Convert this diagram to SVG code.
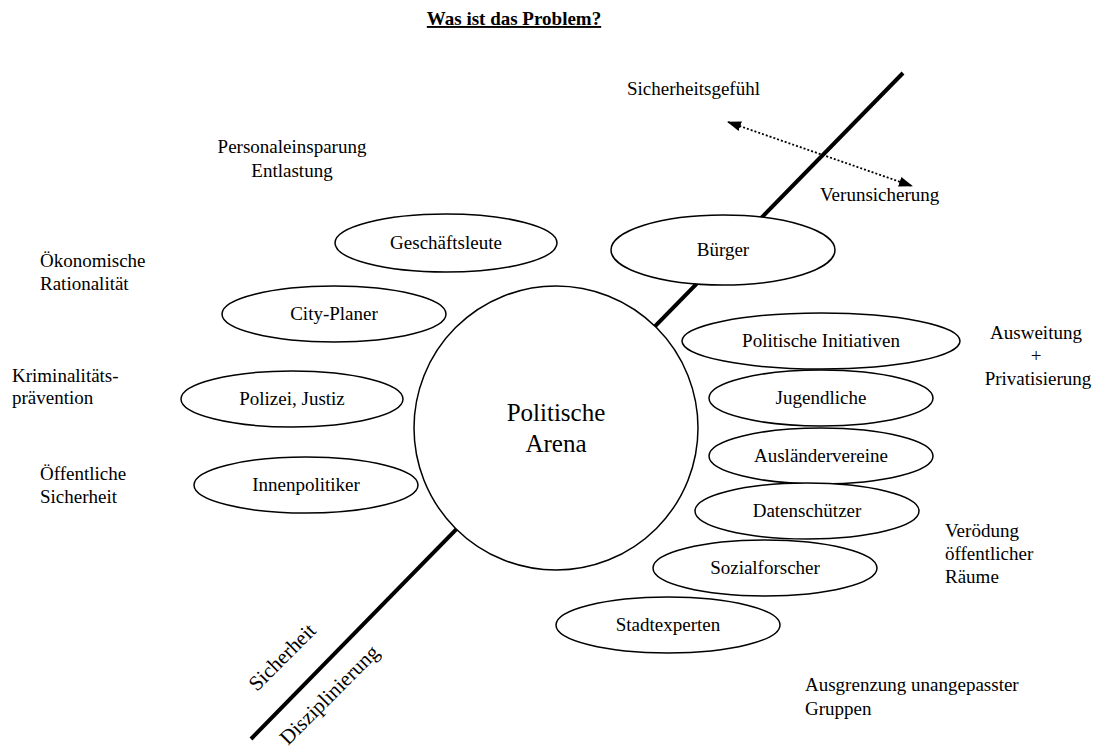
<svg xmlns="http://www.w3.org/2000/svg" width="1098" height="749" viewBox="0 0 1098 749">
<style>
text{font-family:"Liberation Serif","Times New Roman",serif;font-size:19px;fill:#000}
.m{text-anchor:middle}
.n ellipse{fill:#fff;stroke:#000;stroke-width:1.5}
.title{font-weight:bold;text-decoration:underline}
.rot{font-size:21px}
</style>
<defs>
<marker id="ah" viewBox="0 0 14 10" refX="13" refY="5" markerWidth="14" markerHeight="10" markerUnits="userSpaceOnUse" orient="auto-start-reverse">
<path d="M0,0 L14,5 L0,10 z" fill="#000"/>
</marker>
</defs>
<rect width="1098" height="749" fill="#fff"/>
<text class="title m" x="514" y="25">Was ist das Problem?</text>
<g id="connectors">
<line x1="903" y1="73" x2="251" y2="739" stroke="#000" stroke-width="4"/>
<line x1="728" y1="122" x2="912" y2="186" stroke="#000" stroke-width="1.8" stroke-dasharray="2 2" marker-start="url(#ah)" marker-end="url(#ah)"/>
</g>
<g id="arena" class="n"><ellipse cx="556" cy="428" rx="142" ry="142"/><text class="m" x="556" y="421" style="font-size:25px">Politische</text><text class="m" x="556" y="452" style="font-size:25px">Arena</text></g>
<g id="geschaeftsleute" class="n"><ellipse cx="446" cy="243" rx="111" ry="29"/><text class="m" x="446" y="249">Geschäftsleute</text></g>
<g id="buerger" class="n"><ellipse cx="723" cy="250" rx="112" ry="35"/><text class="m" x="723" y="256">Bürger</text></g>
<g id="cityplaner" class="n"><ellipse cx="334" cy="314" rx="112" ry="28"/><text class="m" x="334" y="320">City-Planer</text></g>
<g id="polizei" class="n"><ellipse cx="292" cy="399" rx="111" ry="28"/><text class="m" x="292" y="405">Polizei, Justiz</text></g>
<g id="innenpolitiker" class="n"><ellipse cx="306" cy="485" rx="112" ry="28"/><text class="m" x="306" y="491">Innenpolitiker</text></g>
<g id="initiativen" class="n"><ellipse cx="821" cy="341" rx="139" ry="28"/><text class="m" x="821" y="347">Politische Initiativen</text></g>
<g id="jugendliche" class="n"><ellipse cx="821" cy="398" rx="112" ry="28"/><text class="m" x="821" y="404">Jugendliche</text></g>
<g id="auslaender" class="n"><ellipse cx="821" cy="456" rx="112" ry="28"/><text class="m" x="821" y="462">Ausländervereine</text></g>
<g id="datenschuetzer" class="n"><ellipse cx="807" cy="511" rx="112" ry="28"/><text class="m" x="807" y="517">Datenschützer</text></g>
<g id="sozialforscher" class="n"><ellipse cx="765" cy="568" rx="112" ry="28"/><text class="m" x="765" y="574">Sozialforscher</text></g>
<g id="stadtexperten" class="n"><ellipse cx="668" cy="625" rx="112" ry="28"/><text class="m" x="668" y="631">Stadtexperten</text></g>
<g id="labels">
<text class="m" x="292" y="153">Personaleinsparung</text>
<text class="m" x="292" y="177">Entlastung</text>
<text x="40" y="267">Ökonomische</text>
<text x="40" y="290">Rationalität</text>
<text x="12" y="382">Kriminalitäts-</text>
<text x="12" y="404">prävention</text>
<text x="40" y="480">Öffentliche</text>
<text x="40" y="503">Sicherheit</text>
<text x="627" y="95">Sicherheitsgefühl</text>
<text x="820" y="201">Verunsicherung</text>
<text class="m" x="1036" y="339">Ausweitung</text>
<text class="m" x="1036" y="362">+</text>
<text class="m" x="1038" y="385">Privatisierung</text>
<text x="945" y="537">Verödung</text>
<text x="945" y="560">öffentlicher</text>
<text x="945" y="583">Räume</text>
<text x="805" y="691">Ausgrenzung unangepasster</text>
<text x="805" y="715">Gruppen</text>
<text class="rot" transform="translate(257,692) rotate(-45)">Sicherheit</text>
<text class="rot" transform="translate(288,746) rotate(-45)">Disziplinierung</text>
</g>
</svg>
